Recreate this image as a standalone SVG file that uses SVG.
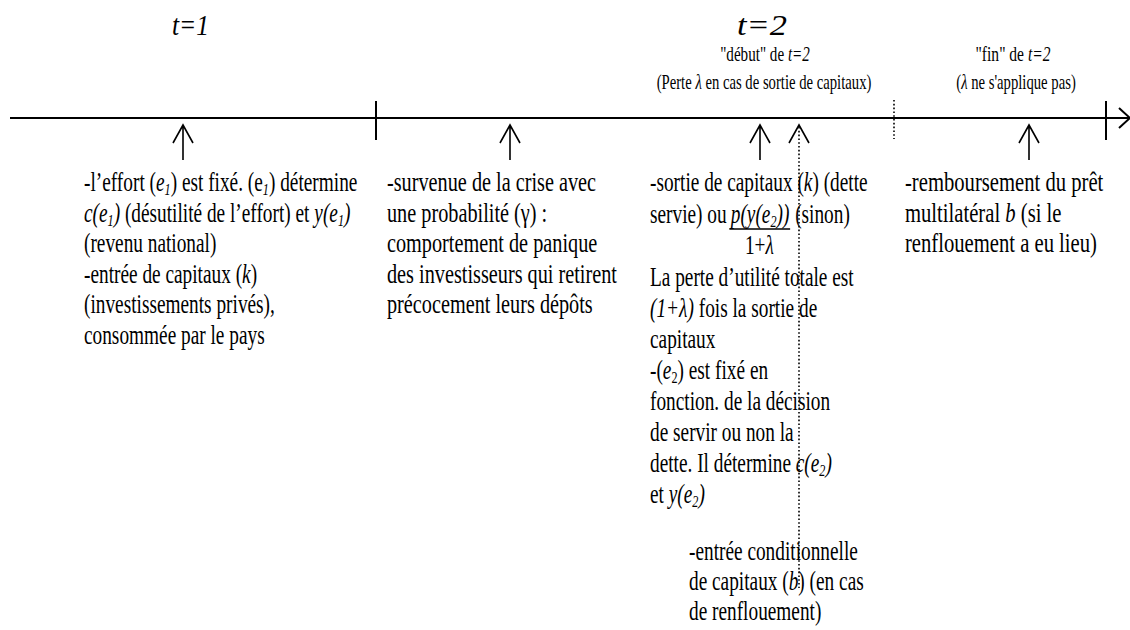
<svg xmlns="http://www.w3.org/2000/svg" width="1130" height="630" viewBox="0 0 1130 630">
<style>
text { font-family: "Liberation Serif", "Times New Roman", serif; fill: #000; }
.b { font-size: 27px; }
.i { font-style: italic; }
.s { font-size: 17px; }
.lbl { font-size: 21px; }
.tt { font-size: 29px; font-style: italic; }
.ln { stroke: #000; stroke-width: 2; fill: none; }
.ar { stroke: #000; stroke-width: 1.6; fill: none; }
.dot { stroke: #000; stroke-width: 1.6; stroke-dasharray: 1.6 2.2; fill: none; }
</style>
<rect width="1130" height="630" fill="#fff"/>

<g id="connectors">
  <path class="ln" d="M10,118 H1130"/>
  <path class="ln" d="M1119,108 L1130,118 L1119,128"/>
  <path class="ln" d="M376,101 V140"/>
  <path class="ln" d="M1106,101 V140"/>
  <path class="dot" d="M894,100 V139"/>
  <path class="ar" d="M183,160 V125 M173,143 L183,125 L193,143"/>
  <path class="ar" d="M510,160 V125 M500,143 L510,125 L520,143"/>
  <path class="ar" d="M760,160 V125 M750,143 L760,125 L770,143"/>
  <path class="ar" d="M789,143 L799,125 L809,143"/>
  <path class="dot" d="M799,127 V588"/>
  <path class="ar" d="M1029,160 V125 M1019,143 L1029,125 L1039,143"/>
</g>

<g id="label-t1">
  <text class="tt" x="172" y="35" textLength="37" lengthAdjust="spacingAndGlyphs">t=1</text>
</g>
<g id="label-t2">
  <text class="tt" x="737" y="35" textLength="50" lengthAdjust="spacingAndGlyphs">t=2</text>
  <g transform="matrix(0.72 0 0 1 765 61)">
    <text class="lbl" x="0" y="0" text-anchor="middle">"début" de <tspan class="i">t=2</tspan></text>
  </g>
  <g transform="matrix(0.7 0 0 1 764 89)">
    <text class="lbl" x="0" y="0" text-anchor="middle">(Perte <tspan class="i">λ</tspan> en cas de sortie de capitaux)</text>
  </g>
</g>
<g id="label-fin">
  <g transform="matrix(0.74 0 0 1 1013 61)">
    <text class="lbl" x="0" y="0" text-anchor="middle">"fin" de <tspan class="i">t=2</tspan></text>
  </g>
  <g transform="matrix(0.7 0 0 1 1016 89)">
    <text class="lbl" x="0" y="0" text-anchor="middle">(<tspan class="i">λ</tspan> ne s'applique pas)</text>
  </g>
</g>

<g id="node-effort" transform="matrix(0.715 0 0 1 84 0)">
  <text class="b" x="0" y="191">-l’effort (<tspan class="i">e</tspan><tspan class="s i" dy="4">1</tspan><tspan dy="-4">) est fixé. (e</tspan><tspan class="s i" dy="4">1</tspan><tspan dy="-4">) détermine</tspan></text>
  <text class="b" x="0" y="222"><tspan class="i">c(e</tspan><tspan class="s i" dy="4">1</tspan><tspan class="i" dy="-4">)</tspan> (désutilité de l’effort) et <tspan class="i">y(e</tspan><tspan class="s i" dy="4">1</tspan><tspan class="i" dy="-4">)</tspan></text>
  <text class="b" x="0" y="252">(revenu national)</text>
  <text class="b" x="0" y="283">-entrée de capitaux (<tspan class="i">k</tspan>)</text>
  <text class="b" x="0" y="313">(investissements privés),</text>
  <text class="b" x="0" y="344">consommée par le pays</text>
</g>

<g id="node-crise" transform="matrix(0.75 0 0 1 387 0)">
  <text class="b" x="0" y="191">-survenue de la crise avec</text>
  <text class="b" x="0" y="222">une probabilité (γ) :</text>
  <text class="b" x="0" y="252">comportement de panique</text>
  <text class="b" x="0" y="283">des investisseurs qui retirent</text>
  <text class="b" x="0" y="313">précocement leurs dépôts</text>
</g>

<g id="node-sortie" transform="matrix(0.715 0 0 1 650 0)">
  <text class="b" x="0" y="191">-sortie de capitaux (<tspan class="i">k</tspan>) (dette</text>
  <text class="b" x="0" y="223">servie) ou</text>
  <text class="b i" x="113" y="223">p(y(e<tspan class="s" dy="4">2</tspan><tspan dy="-4">))</tspan></text>
  <line x1="111" y1="229" x2="196" y2="229" stroke="#000" stroke-width="1.4"/>
  <text class="b" x="153" y="254" text-anchor="middle">1+<tspan class="i">λ</tspan></text>
  <text class="b" x="203" y="223">(sinon)</text>
  <text class="b" x="0" y="286">La perte d’utilité totale est</text>
  <text class="b" x="0" y="317"><tspan class="i">(1+λ)</tspan> fois la sortie de</text>
  <text class="b" x="0" y="348">capitaux</text>
  <text class="b" x="0" y="379">-(<tspan class="i">e</tspan><tspan class="s" dy="4">2</tspan><tspan dy="-4">) est fixé en</tspan></text>
  <text class="b" x="0" y="410">fonction. de la décision</text>
  <text class="b" x="0" y="441">de servir ou non la</text>
  <text class="b" x="0" y="472">dette. Il détermine <tspan class="i">c(e</tspan><tspan class="s i" dy="4">2</tspan><tspan class="i" dy="-4">)</tspan></text>
  <text class="b" x="0" y="503">et <tspan class="i">y(e</tspan><tspan class="s i" dy="4">2</tspan><tspan class="i" dy="-4">)</tspan></text>
</g>

<g id="node-entree" transform="matrix(0.715 0 0 1 689 0)">
  <text class="b" x="0" y="560">-entrée conditionnelle</text>
  <text class="b" x="0" y="590">de capitaux (<tspan class="i">b</tspan>) (en cas</text>
  <text class="b" x="0" y="620">de renflouement)</text>
</g>

<g id="node-remboursement" transform="matrix(0.765 0 0 1 905 0)">
  <text class="b" x="0" y="191">-remboursement du prêt</text>
  <text class="b" x="0" y="222">multilatéral <tspan class="i">b</tspan> (si le</text>
  <text class="b" x="0" y="252">renflouement a eu lieu)</text>
</g>
</svg>
